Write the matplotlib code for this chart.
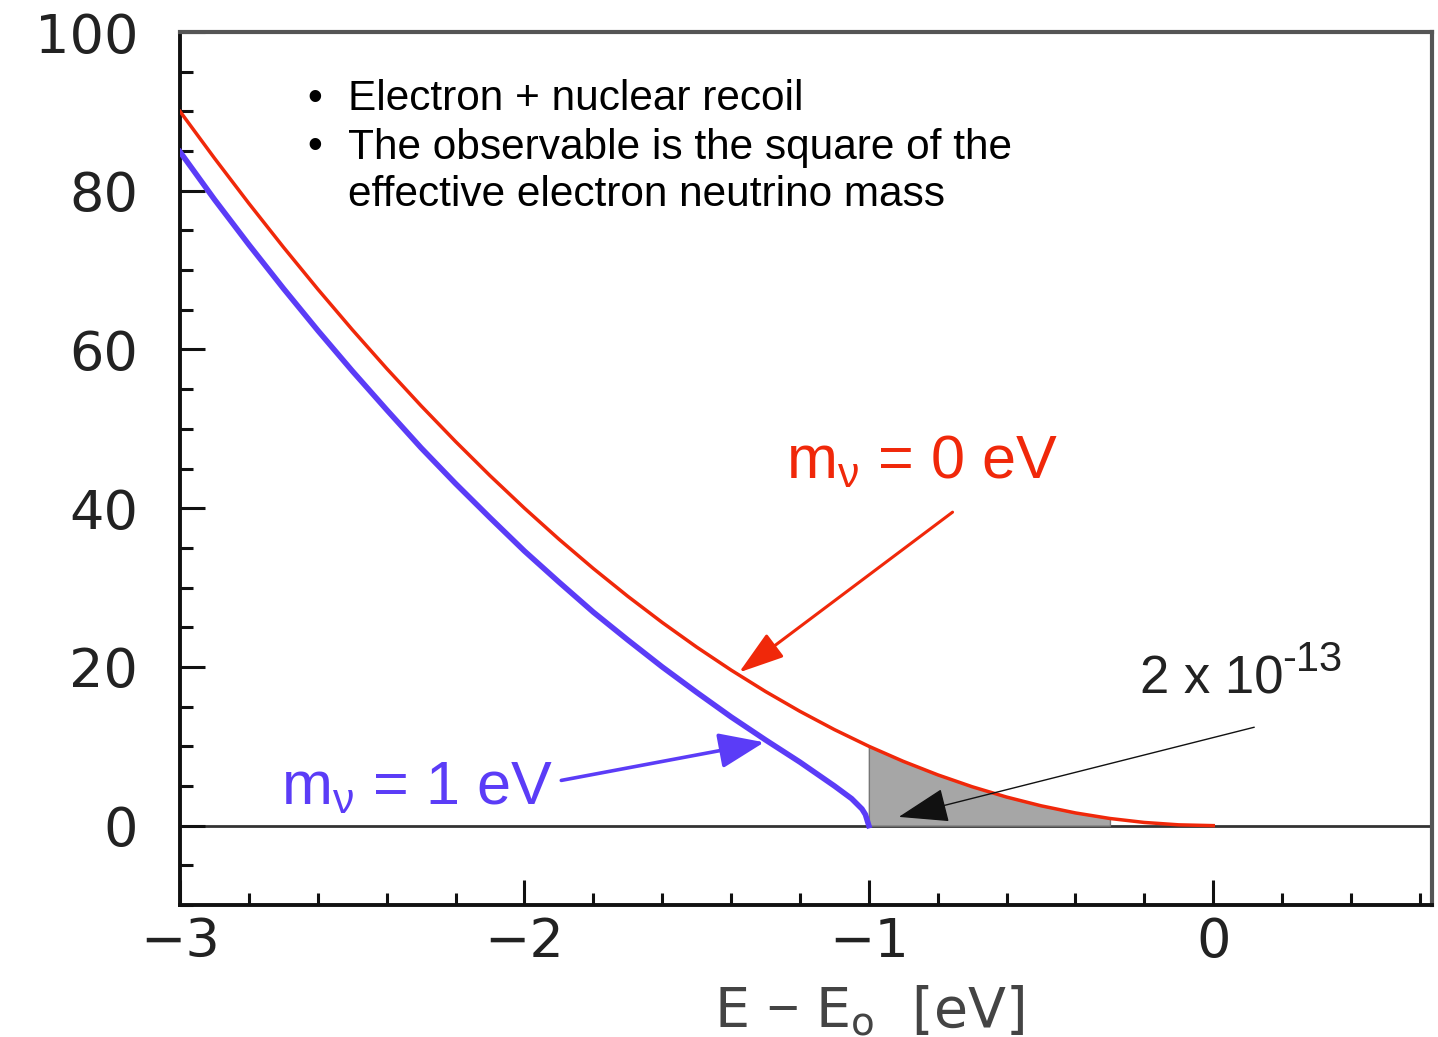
import numpy as np
import matplotlib
matplotlib.use("Agg")
import matplotlib.pyplot as plt
from matplotlib.ticker import MultipleLocator

# -----------------------------
# DATA
# -----------------------------
x_red = [-3.0, -2.9, -2.8, -2.7, -2.6, -2.5, -2.4, -2.3, -2.2, -2.1, -2.0,
         -1.9, -1.8, -1.7, -1.6, -1.5, -1.4, -1.3, -1.2, -1.1, -1.0,
         -0.9, -0.8, -0.7, -0.6, -0.5, -0.4, -0.3, -0.2, -0.1, 0.0]
y_red = [90.0, 84.1, 78.4, 72.9, 67.6, 62.5, 57.6, 52.9, 48.4, 44.1, 40.0,
         36.1, 32.4, 28.9, 25.6, 22.5, 19.6, 16.9, 14.4, 12.1, 10.0,
         8.1, 6.4, 4.9, 3.6, 2.5, 1.6, 0.9, 0.4, 0.1, 0.0]

x_blue = [-3.0, -2.9, -2.8, -2.7, -2.6, -2.5, -2.4, -2.3, -2.2, -2.1, -2.0,
          -1.9, -1.8, -1.7, -1.6, -1.5, -1.4, -1.3, -1.2, -1.15, -1.1,
          -1.05, -1.02, -1.01, -1.0]
y_blue = [84.9, 78.9, 73.2, 67.7, 62.4, 57.3, 52.4, 47.6, 43.1, 38.8, 34.6,
          30.7, 26.9, 23.4, 20.0, 16.8, 13.7, 10.8, 8.0, 6.5, 5.0,
          3.4, 2.1, 1.4, 0.0]

# shaded tail (under red curve, -1 .. -0.3)
x_tail = [-1.0, -0.9, -0.8, -0.7, -0.6, -0.5, -0.4, -0.3]
y_tail = [10.0, 8.1, 6.4, 4.9, 3.6, 2.5, 1.6, 0.9]

x_major = [-3, -2, -1, 0]
x_labels = ["\u22123", "\u22122", "\u22121", "0"]
y_major = [0, 20, 40, 60, 80, 100]

text_lines = ["Electron + nuclear recoil",
              "The observable is the square of the",
              "effective electron neutrino mass"]
has_bullet = [True, True, False]

RED = "#f0280a"
BLUE = "#5b3cf7"

plt.rcParams["mathtext.fontset"] = "custom"
plt.rcParams["mathtext.rm"] = "Liberation Sans"
plt.rcParams["mathtext.it"] = "Liberation Sans"
plt.rcParams["mathtext.bf"] = "Liberation Sans"

# -----------------------------
# FIGURE
# -----------------------------
fig = plt.figure(figsize=(14.38, 10.37), dpi=100)
ax = fig.add_axes([0.1252, 0.1273, 0.8706, 0.8418])

ax.set_xlim(-3, 0.635)
ax.set_ylim(-10, 100)

ax.axhline(0, color="#333333", lw=2.0, zorder=1)

ax.fill_between(x_tail, y_tail, 0, color="#a6a6a6", edgecolor="#777777",
                lw=1.0, zorder=2)

ax.plot(x_red, y_red, color=RED, lw=2.5, zorder=4)
ax.plot(x_blue, y_blue, color=BLUE, lw=4.0, zorder=3)

# ticks
ax.xaxis.set_major_locator(plt.FixedLocator(x_major))
ax.set_xticklabels(x_labels)
ax.xaxis.set_minor_locator(MultipleLocator(0.2))
ax.yaxis.set_major_locator(plt.FixedLocator(y_major))
ax.set_yticklabels([str(v) for v in y_major])
ax.yaxis.set_minor_locator(MultipleLocator(5))

ax.tick_params(axis="both", which="both", direction="in", top=False, right=False,
               color="#111111", width=2.2, labelcolor="#222222",
               labelsize=39)
ax.tick_params(axis="both", which="major", length=18)
ax.tick_params(axis="both", which="minor", length=9)
ax.tick_params(axis="y", which="major", pad=30)
ax.tick_params(axis="x", which="major", pad=8)
for lbl in ax.get_xticklabels() + ax.get_yticklabels():
    lbl.set_fontfamily("DejaVu Sans")

for side in ["left", "bottom"]:
    ax.spines[side].set_color("#111111")
    ax.spines[side].set_linewidth(2.8)
for side in ["top", "right"]:
    ax.spines[side].set_color("#555555")
    ax.spines[side].set_linewidth(3.0)

# x label
fig.text(869 / 1438, 1 - 1012 / 1037, r"E$\,-\,$E$_{\mathregular{o}}$  [eV]",
         ha="center", va="center", fontsize=40, color="#444444",
         family="DejaVu Sans")

# bullet text
line_y = [95, 143, 190]
for yy, txt, b in zip(line_y, text_lines, has_bullet):
    if b:
        fig.text(307 / 1438, 1 - yy / 1037, "\u2022", ha="left",
                 va="center_baseline", fontsize=30.5,
                 family="Liberation Sans", color="black")
    fig.text(348 / 1438, 1 - yy / 1037, txt, ha="left", va="center_baseline",
             fontsize=30.5, family="Liberation Sans", color="black")

# curve labels
ax.text(-1.241, 43.8, r"m$_{\nu}$ = 0 eV", color=RED, fontsize=44,
        family="Liberation Sans", ha="left", va="baseline")
ax.text(-2.707, 2.65, r"m$_{\nu}$ = 1 eV", color=BLUE, fontsize=44,
        family="Liberation Sans", ha="left", va="baseline")
ax.text(-0.212, 16.6, "2 x 10", color="#222222",
        fontsize=38, family="Liberation Sans", ha="left", va="baseline")
ax.text(0.200, 19.5, "-13", color="#222222",
        fontsize=30, family="Liberation Sans", ha="left", va="baseline")

# arrows
ax.annotate("", xy=(-1.377, 19.3), xytext=(-0.757, 39.5),
            arrowprops=dict(arrowstyle="-|>,head_length=1.4,head_width=0.45",
                            color=RED, lw=2.2, mutation_scale=20,
                            shrinkA=0, shrinkB=0), zorder=5)
ax.annotate("", xy=(-1.304, 10.5), xytext=(-1.893, 5.7),
            arrowprops=dict(arrowstyle="-|>,head_length=1.4,head_width=0.55",
                            color=BLUE, lw=2.6, mutation_scale=20,
                            shrinkA=0, shrinkB=0), zorder=5)
ax.annotate("", xy=(-0.913, 1.1), xytext=(0.119, 12.4),
            arrowprops=dict(arrowstyle="-|>,head_length=1.6,head_width=0.55",
                            color="#111111", lw=1.0, mutation_scale=20,
                            shrinkA=0, shrinkB=0), zorder=5)

fig.savefig("out.png", dpi=100)
